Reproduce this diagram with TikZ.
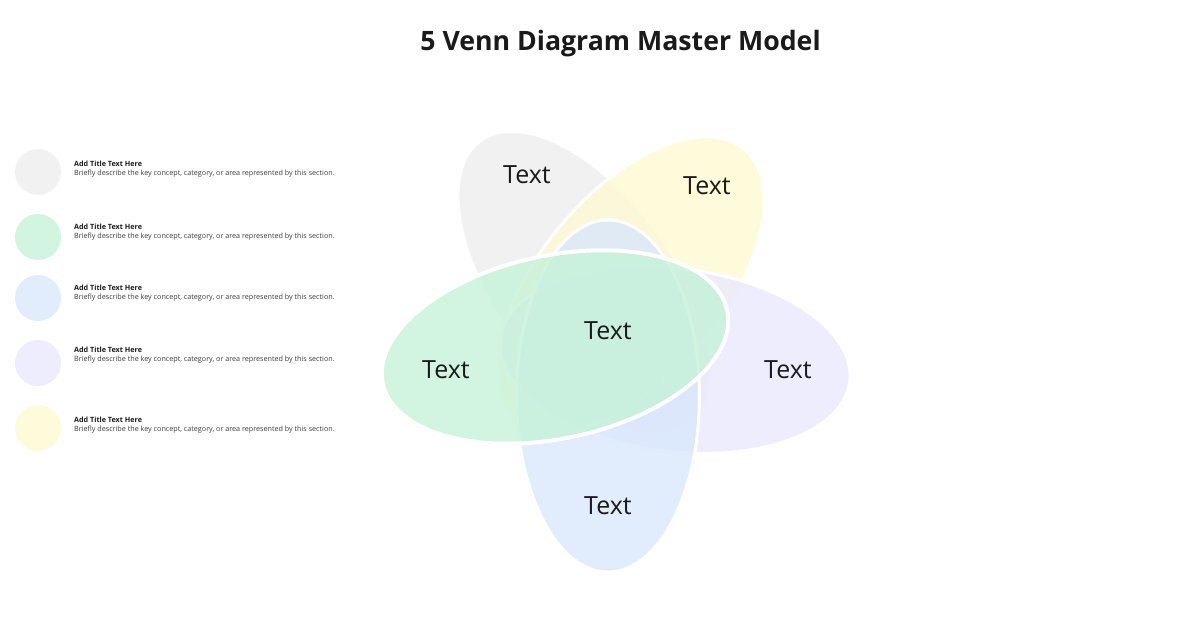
\documentclass[tikz,border=0pt]{standalone}
\usepackage{fontspec}
\setmainfont{Open Sans}
\definecolor{cgray}{HTML}{EEEEEE}
\definecolor{cgreen}{HTML}{C5F2D9}
\definecolor{cblue}{HTML}{D9E7FC}
\definecolor{cpurple}{HTML}{EAE8FC}
\definecolor{cyellow}{HTML}{FEFAD2}
\definecolor{ink}{HTML}{1A1A1A}
\tikzset{
  petal/.style={fill=#1, fill opacity=0.8, draw=white, line width=3pt},
  dot/.style={circle, minimum size=46pt, inner sep=0pt, fill=#1, fill opacity=0.8},
  lbl/.style={font=\fontsize{25}{28}\selectfont, text=ink},
  ltitle/.style={anchor=west, inner sep=0pt, font=\fontsize{7.2}{8}\selectfont\bfseries, text=ink},
  ldesc/.style={anchor=west, inner sep=0pt, font=\fontsize{7.2}{8}\selectfont, text=ink!85},
}
\begin{document}
\begin{tikzpicture}[x=1pt,y=1pt]
\useasboundingbox (0,0) rectangle (1197,618);
\node[font=\fontsize{26.7}{30}\selectfont\bfseries, text=ink] (title) at (620.5,574) {5 Venn Diagram Master Model};
% Venn petals
\path[petal=cgray]   (584,335) ellipse[x radius=176, y radius=89, rotate=126];
\path[petal=cyellow] (631,334) ellipse[x radius=176, y radius=91.5, rotate=50];
\path[petal=cpurple] (675,258) ellipse[x radius=176, y radius=91.5, rotate=-7];
\path[petal=cblue]   (608,222) ellipse[x radius=91.5, y radius=176];
\path[petal=cgreen, line width=4pt] (555,271) ellipse[x radius=176, y radius=91.5, rotate=12];
% labels
\node[lbl] (tgray)   at (527,443) {Text};
\node[lbl] (tyellow) at (707,432) {Text};
\node[lbl] (tgreen)  at (446,248) {Text};
\node[lbl] (tcenter) at (608,287) {Text};
\node[lbl] (tpurple) at (788,248) {Text};
\node[lbl] (tblue)   at (608,112) {Text};
% legend
\foreach \c/\y/\d/\n in {cgray/446/444/1, cgreen/381/381/2, cblue/320/320/3, cpurple/255/258/4, cyellow/190/188/5}{
  \node[dot=\c] (leg\n) at (38,\y) {};
  \node[ltitle] (legt\n) at (74,\d+10) {Add Title Text Here};
  \node[ldesc] (legd\n) at (74,\d) {Briefly describe the key concept, category, or area represented by this section.};
}
\end{tikzpicture}
\end{document}
